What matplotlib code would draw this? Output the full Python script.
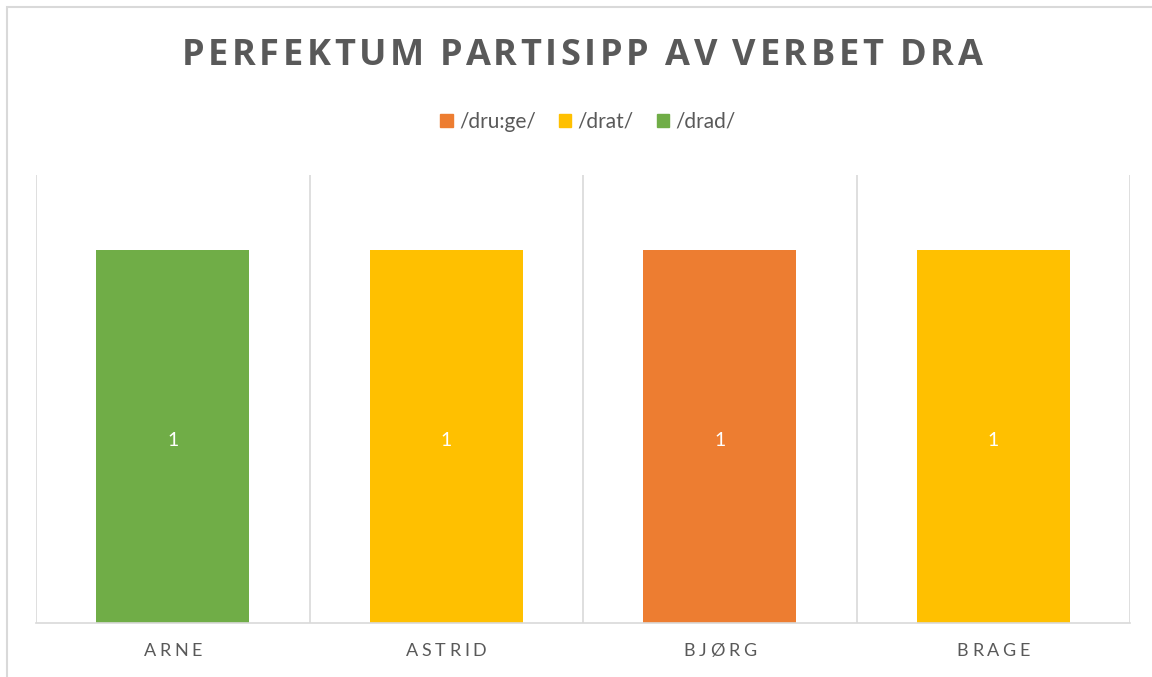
import matplotlib
matplotlib.use("Agg")
import matplotlib.pyplot as plt
from matplotlib.patches import Patch, Rectangle
from matplotlib.font_manager import FontProperties
import numpy as np

# data
people = ['ARNE', 'ASTRID', 'BJØRG', 'BRAGE']
series_names = ['/dru:ge/', '/drat/', '/drad/']
druge = [0, 0, 1, 0]
drat = [0, 1, 0, 1]
drad = [1, 0, 0, 0]
title = 'PERFEKTUM PARTISIPP AV VERBET DRA'

colors = ['#ED7D31', '#FFC000', '#70AD47']
grey = '#595959'
W, H = 1152, 677

fig = plt.figure(figsize=(W / 100, H / 100), dpi=100)
ax = fig.add_axes([36 / W, 1 - 623 / H, (1130 - 36) / W, (623 - 175) / H])

x = np.arange(len(people))
bottom = np.zeros(len(people))
for name, vals, c in zip(series_names, [druge, drat, drad], colors):
    vals = np.array(vals, dtype=float)
    bars = ax.bar(x, vals, 0.56, bottom=bottom, color=c, label=name, zorder=2)
    for b, v, b0 in zip(bars, vals, bottom):
        if v > 0:
            ax.text(b.get_x() + b.get_width() / 2, b0 + v / 2 - 0.01, f'{v:g}',
                    ha='center', va='center', color='white', fontsize=14,
                    family='Lato', zorder=3)
    bottom += vals

ax.set_xlim(-0.5, len(people) - 0.5)
ax.set_ylim(0, 1.2)
ax.set_xticks(x)
ax.set_xticklabels([])
ax.set_xticks(np.arange(-0.5, len(people), 1), minor=True)
ax.grid(True, which='minor', axis='x', color='#d9d9d9', lw=1.2, zorder=0)
ax.tick_params(which='both', length=0)
ax.set_yticks([])
for s in ['top', 'left', 'right']:
    ax.spines[s].set_visible(False)
ax.spines['bottom'].set_color('#d9d9d9')
ax.spines['bottom'].set_linewidth(1.2)

renderer = fig.canvas.get_renderer()


def spaced_text(s, cx, cy, spacing, prop, color):
    # draw s centred at pixel (cx, cy) with extra letter spacing (px)
    def width(t):
        if not t:
            return 0.0
        w, h, d = renderer.get_text_width_height_descent(t, prop, ismath=False)
        return w
    total = width(s) + spacing * (len(s) - 1)
    x0 = cx - total / 2
    for i, ch in enumerate(s):
        if ch == ' ':
            continue
        px = x0 + width(s[:i]) + spacing * i
        fig.text(px / W, 1 - cy / H, ch, fontproperties=prop, color=color,
                 ha='left', va='center')


title_prop = FontProperties(family='Open Sans', weight='bold', size=26)
spaced_text(title, 582, 56, 3.6, title_prop, grey)

tick_prop = FontProperties(family='Lato', size=13)
for xi, name in zip(x, people):
    px = ax.transData.transform((xi, 0))[0]
    spaced_text(name, px, 651, 3.6, tick_prop, grey)

handles = [Patch(color=c) for c in colors]
fig.legend(handles, series_names, loc='center', bbox_to_anchor=(588 / W, 1 - 122 / H),
           ncol=3, frameon=False, handlelength=0.6, handleheight=0.6,
           handletextpad=0.3, columnspacing=1.1,
           prop=FontProperties(family='Lato', size=15), labelcolor=grey)

fig.patches.append(Rectangle((7 / W, -0.1), 1.2, 1 - 7 / H + 0.1,
                             transform=fig.transFigure, fill=False,
                             edgecolor='#d9d9d9', lw=1.5))

fig.savefig('out.png', dpi=100)
